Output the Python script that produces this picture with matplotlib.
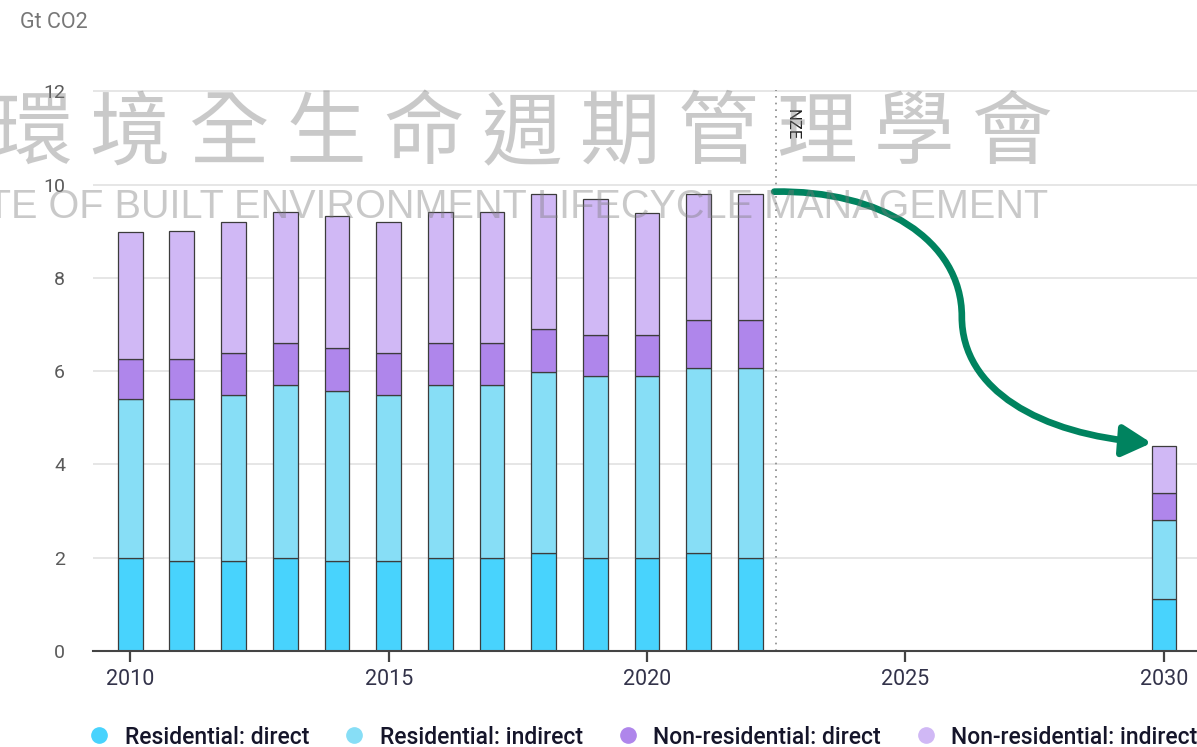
import numpy as np
import matplotlib
matplotlib.use("Agg")
import matplotlib.pyplot as plt
from matplotlib.patches import FancyArrowPatch
from matplotlib.path import Path
from matplotlib.lines import Line2D

plt.rcParams['font.family'] = ['Roboto', 'DejaVu Sans']

# Buildings CO2 emissions by component (Gt CO2), history + NZE 2030
years = [2010, 2011, 2012, 2013, 2014, 2015, 2016, 2017, 2018, 2019, 2020, 2021, 2022, 2030]
res_direct = [2.0, 1.93, 1.93, 2.0, 1.93, 1.93, 2.0, 2.0, 2.1, 2.0, 2.0, 2.1, 2.0, 1.12]
res_indirect = [3.41, 3.48, 3.55, 3.7, 3.65, 3.55, 3.7, 3.7, 3.89, 3.9, 3.9, 3.97, 4.07, 1.69]
nonres_direct = [0.86, 0.86, 0.92, 0.91, 0.91, 0.92, 0.91, 0.91, 0.92, 0.88, 0.88, 1.03, 1.03, 0.58]
nonres_indirect = [2.72, 2.73, 2.8, 2.81, 2.84, 2.8, 2.81, 2.81, 2.89, 2.92, 2.62, 2.7, 2.7, 1.01]

labels = ['Residential: direct', 'Residential: indirect',
          'Non-residential: direct', 'Non-residential: indirect']
colors = ['#48D3FD', '#87DEF6', '#AF86EB', '#D0B8F5']
xticks = [2010, 2015, 2020, 2025, 2030]
yticks = [0, 2, 4, 6, 8, 10, 12]

fig = plt.figure(figsize=(11.97, 7.47), dpi=100)
ax = fig.add_axes([93 / 1197, 96 / 747, 1104 / 1197, 561 / 747])

x = np.array(years)
bottom = np.zeros(len(years))
for vals, c in zip([res_direct, res_indirect, nonres_direct, nonres_indirect], colors):
    ax.bar(x, vals, width=0.48, bottom=bottom, color=c,
           edgecolor='#3c3c3c', linewidth=0.9, zorder=3)
    bottom += np.array(vals)

ax.set_xlim(2009.28, 2030.64)
ax.set_ylim(0, 12.03)
ax.set_yticks(yticks)
ax.set_xticks(xticks)
ax.yaxis.grid(True, color='#e4e4e4', linewidth=1.3, zorder=0)
ax.set_axisbelow(True)
for s in ['top', 'right', 'left']:
    ax.spines[s].set_visible(False)
ax.spines['bottom'].set_color('#444444')
ax.spines['bottom'].set_linewidth(1.5)
ax.spines['bottom'].set_zorder(4)
ax.tick_params(axis='y', length=0, pad=20, labelsize=14, labelcolor='#5a5a5a')
ax.tick_params(axis='x', length=8, width=1.6, color='#444444', pad=5,
               labelsize=15.5, labelcolor='#33334a')
for t in ax.get_yticklabels():
    t.set_horizontalalignment('right')

# NZE marker
ax.axvline(2022.5, color='#8a8a8a', linestyle=(0, (1, 3)), linewidth=1.2, zorder=2)
ax.text(2022.8, 11.62, 'NZE', rotation=-90, ha='center', va='top',
        fontsize=12, color='#222222')

# curved arrow towards 2030
verts = [(2022.46, 9.85), (2024.51, 9.89), (2026.09, 8.82), (2026.09, 7.17),
         (2026.09, 5.60), (2027.60, 4.64), (2029.76, 4.46)]
codes = [Path.MOVETO] + [Path.CURVE4] * 6
arrow = FancyArrowPatch(path=Path(verts, codes),
                        arrowstyle='-|>,head_length=1.25,head_width=0.68',
                        mutation_scale=14, linewidth=4.8, color='#00835F',
                        shrinkA=0, shrinkB=0, zorder=5)
ax.add_patch(arrow)

fig.text(20 / 1197, 1 - 22 / 747, 'Gt CO2', fontsize=15.5, color='#777777', va='center')

# legend
handles = [Line2D([], [], linestyle='none', marker='o', markersize=11,
                  markerfacecolor=c, markeredgecolor=c) for c in colors]
leg = fig.legend(handles, labels, loc='center left', bbox_to_anchor=(88 / 1197, 1 - 737 / 747),
                 ncol=4, frameon=False, handlelength=1.0,
                 handletextpad=0.6, columnspacing=1.48, borderaxespad=0, borderpad=0,
                 prop={'family': ['Roboto'], 'size': 16.5, 'weight': 'medium'})
for t in leg.get_texts():
    t.set_color('#15152a')

# watermark
wm_chars = '環境全生命週期管理學會'
for i, ch in enumerate(wm_chars):
    fig.text((32 + 98 * i) / 1197, 1 - 135 / 747, ch, fontsize=58,
             family=['Noto Sans CJK TC'], color='#7a7a7a', alpha=0.4,
             ha='center', va='center', zorder=10)
fig.text(1048 / 1197, 1 - 207 / 747, 'INSTITUTE OF BUILT ENVIRONMENT LIFECYCLE MANAGEMENT',
         fontsize=28.5, family=['Liberation Sans'], color='#7a7a7a', alpha=0.4,
         ha='right', va='center', zorder=10)

fig.savefig('out.png', dpi=100)
